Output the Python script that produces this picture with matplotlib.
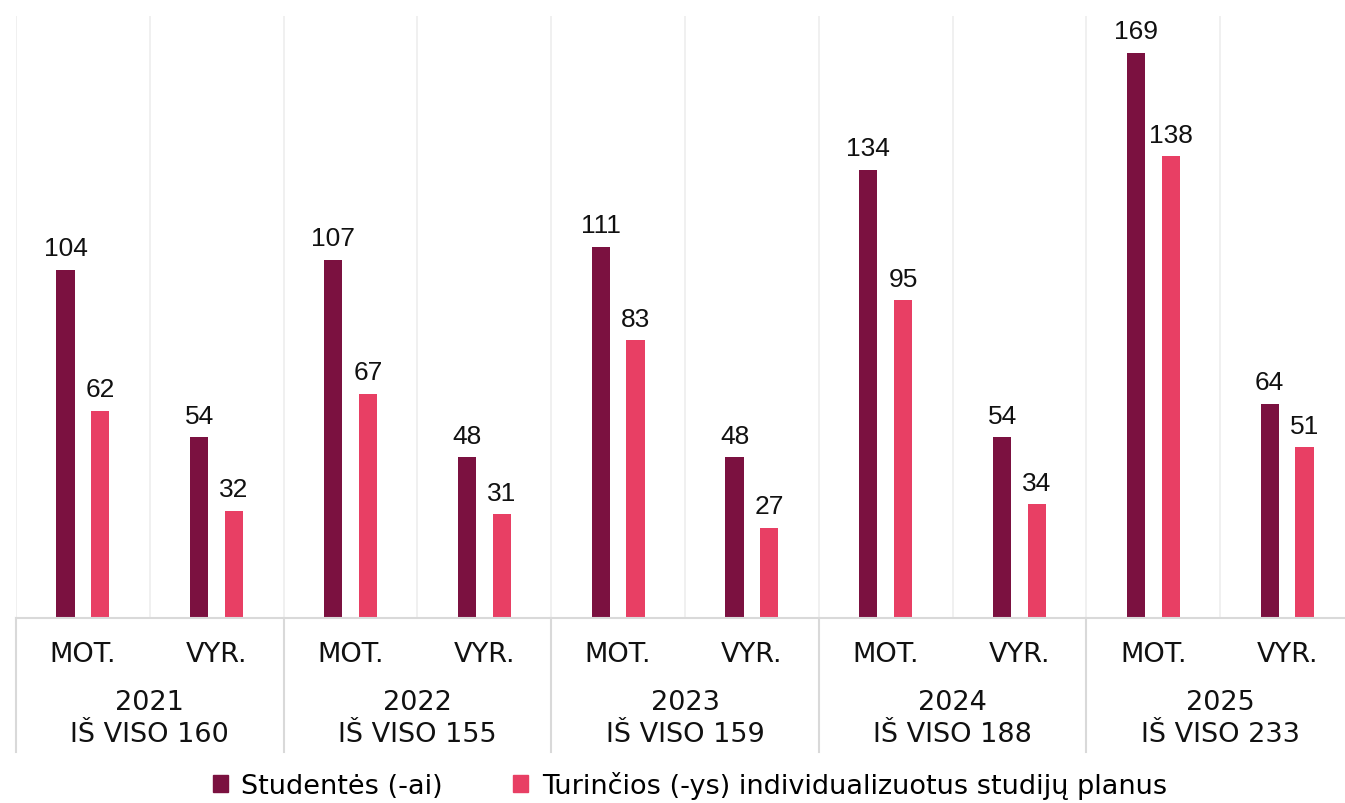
import matplotlib
matplotlib.use("Agg")
import matplotlib.pyplot as plt
from matplotlib.transforms import blended_transform_factory
from matplotlib.patches import Patch
import numpy as np

years = ["2021", "2022", "2023", "2024", "2025"]
totals = [160, 155, 159, 188, 233]
genders = ["MOT.", "VYR."]
students = [104, 54, 107, 48, 111, 48, 134, 54, 169, 64]
individual = [62, 32, 67, 31, 83, 27, 95, 34, 138, 51]
series_names = ["Studentės (-ai)", "Turinčios (-ys) individualizuotus studijų planus"]
colors = ["#7b1140", "#e83f64"]

label_font = "DejaVu Sans"
num_font = "Liberation Sans"

fig = plt.figure(figsize=(13.45, 8.04), dpi=100)
ax = fig.add_axes([16 / 1345, 185 / 804, 1338 / 1345, 602 / 804])

x = np.arange(len(students))
w = 0.135
off = 0.13
b1 = ax.bar(x - off, students, w, color=colors[0])
b2 = ax.bar(x + off, individual, w, color=colors[1])
for bars, vals in [(b1, students), (b2, individual)]:
    for r, v in zip(bars, vals):
        ax.annotate(str(v), (r.get_x() + r.get_width() / 2, v), xytext=(0, 7),
                    textcoords="offset points", ha="center", va="bottom",
                    fontsize=19, family=num_font, color="#111111")

ax.set_xlim(-0.5, len(students) - 0.5)
ax.set_ylim(0, 180)
ax.set_xticks([])
ax.set_yticks([])
for s in ["top", "right", "left"]:
    ax.spines[s].set_visible(False)
ax.spines["bottom"].set_color("#d9d9d9")
ax.spines["bottom"].set_linewidth(1.5)

# vertical separators between categories
for b in np.arange(-0.5, len(students), 1):
    ax.axvline(b, color="#eeeeee", lw=1.2, zorder=0)

tr = blended_transform_factory(ax.transData, ax.transAxes)
for g in range(len(years) + 1):
    xb = g * 2 - 0.5
    ax.plot([xb, xb], [0, -0.2226], transform=tr, color="#d9d9d9", lw=1.5,
            clip_on=False)

fs = 19.5
for i in x:
    ax.text(i, -0.060, genders[i % 2], transform=tr, ha="center", va="center",
            fontsize=fs, family=label_font, color="#111111")
for g, (yr, tot) in enumerate(zip(years, totals)):
    ax.text(g * 2 + 0.5, -0.139, yr, transform=tr, ha="center", va="center",
            fontsize=fs, family=label_font, color="#111111")
    ax.text(g * 2 + 0.5, -0.193, f"IŠ VISO {tot}", transform=tr, ha="center",
            va="center", fontsize=fs, family=label_font, color="#111111")

handles = [Patch(color=c, label=n) for c, n in zip(colors, series_names)]
fig.legend(handles=handles, loc="center", bbox_to_anchor=(690 / 1345, 1 - 786 / 804),
           ncol=2, frameon=False, prop={"family": label_font, "size": fs},
           handlelength=0.55, handleheight=0.55, columnspacing=2.6, handletextpad=0.5,
           borderpad=0.1)

fig.savefig("out.png", dpi=100)
